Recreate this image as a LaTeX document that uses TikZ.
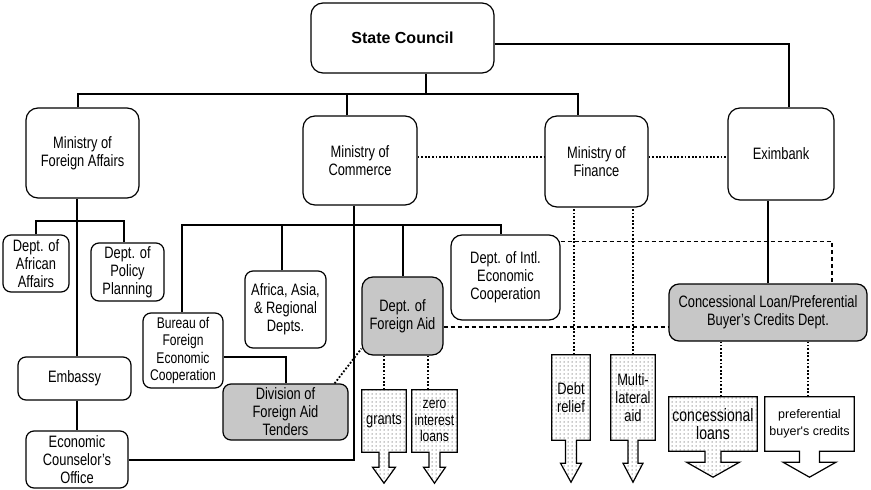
\documentclass[tikz,border=0pt]{standalone}
\usepackage{fontspec}
\setmainfont{Liberation Sans}[FakeStretch=0.78]
\newfontfamily\plainsans{Liberation Sans}
\usetikzlibrary{calc,backgrounds,patterns.meta}

\tikzdeclarepattern{
  name=aiddots,
  type=uncolored,
  bounding box={(-1pt,-1pt) and (1pt,1pt)},
  tile size={(4pt,4pt)},
  code={\pgfpathcircle{\pgfpointorigin}{0.75pt}\pgfusepath{fill}}
}

\newcommand{\boxfont}{\fontsize{16.5}{18}\selectfont}
\newcommand{\smallboxfont}{\fontsize{15.5}{17.5}\selectfont}

\tikzset{
  unit/.style={draw,line width=1.2pt,rounded corners=8pt,fill=white,align=center,inner sep=0pt,font=\boxfont},
  ministry/.style={unit,rounded corners=12pt},
  aiddept/.style={unit,fill=black!22},
  flowbox/.style={align=center,inner sep=0pt,font=\boxfont},
  arrowbody/.style={draw,line width=1.2pt,pattern=aiddots,pattern color=black!42,line join=miter},
  plainbody/.style={draw,line width=1.2pt,fill=white,line join=miter},
  tree/.style={line width=2pt},
  dotline/.style={line width=1.8pt,dash pattern=on 1.8pt off 1.8pt},
  dashline/.style={line width=1.8pt,dash pattern=on 4pt off 3pt}
}

% block arrow under a flow node: [style] node, stem half, head half, stem length, head length
\newcommand{\aidarrow}[6][arrowbody]{%
  \begin{scope}[on background layer]
    \draw[#1] (#2.north west) -- (#2.north east) -- (#2.south east)
      -- ($(#2.south)+(#3,0)$) -- ($(#2.south)+(#3,#5)$) -- ($(#2.south)+(#4,#5)$)
      -- ($(#2.south)+(0,{#5+#6})$) -- ($(#2.south)+(-#4,#5)$)
      -- ($(#2.south)+(-#3,#5)$) -- ($(#2.south)+(-#3,0)$)
      -- (#2.south west) -- cycle;
  \end{scope}}

\begin{document}
\begin{tikzpicture}[x=1pt,y=-1pt]
	\useasboundingbox (0,0) rectangle (871,490);
	%%
	\node (council) at (402.5,38) [unit,rounded corners=12pt,minimum width=183pt,minimum height=70pt,font={\plainsans\bfseries\fontsize{16}{19}\selectfont}] {State Council};
	  \node (mfa) at (82.5,153) [ministry,minimum width=113pt,minimum height=90pt] {Ministry of\\Foreign Affairs};
	  \node (moc) at (360,160.5) [ministry,minimum width=114pt,minimum height=89pt] {Ministry of\\Commerce};
	  \node (mof) at (596.5,161.5) [ministry,minimum width=103pt,minimum height=91pt] {Ministry of\\Finance};
	  \node (exim) at (781,154) [ministry,minimum width=106pt,minimum height=92pt] {Eximbank};
	  \node (african) at (36,263.5) [unit,minimum width=66pt,minimum height=57pt] {Dept. of\\African\\Affairs};
	  \node (policy) at (127.5,272) [unit,minimum width=73pt,minimum height=58pt] {Dept. of\\Policy\\Planning};
	  \node (embassy) at (74.5,378.5) [unit,minimum width=113pt,minimum height=43pt] {Embassy};
	  \node (counselor) at (77,459.5) [unit,minimum width=102pt,minimum height=57pt] {Economic\\Counselor's\\Office};
	  \node (bureau) at (183,350.5) [unit,minimum width=80pt,minimum height=75pt,font=\smallboxfont] {Bureau of\\Foreign\\Economic\\Cooperation};
	  \node (regional) at (285.5,309.5) [unit,minimum width=81pt,minimum height=77pt] {Africa, Asia,\\\& Regional\\Depts.};
	  \node (division) at (285.5,412) [aiddept,minimum width=125pt,minimum height=56pt] {Division of\\Foreign Aid\\Tenders};
	  \node (dfa) at (402.5,316) [aiddept,rounded corners=11pt,minimum width=81pt,minimum height=78pt] {Dept. of\\Foreign Aid};
	  \node (intl) at (505.5,277.5) [unit,rounded corners=11pt,minimum width=109pt,minimum height=85pt] {Dept. of Intl.\\Economic\\Cooperation};
	  \node (concess) at (768,312.5) [aiddept,rounded corners=10pt,minimum width=198pt,minimum height=57pt] {Concessional Loan/Preferential\\Buyer's Credits Dept.};
	  \node (grants) at (384,421) [flowbox,minimum width=44pt,minimum height=62pt] {grants};
	  \node (zero) at (434.5,421) [flowbox,minimum width=45pt,minimum height=62pt,font={\fontsize{15.5}{16.5}\selectfont}] {zero\\interest\\loans};
	  \node (debt) at (571,397.5) [flowbox,minimum width=38pt,minimum height=85pt] {Debt\\relief};
	  \node (multi) at (633,397.5) [flowbox,minimum width=44pt,minimum height=85pt] {Multi-\\lateral\\aid};
	  \node (loans) at (713,424) [flowbox,minimum width=88pt,minimum height=54pt,font={\fontsize{18}{18.5}\selectfont}] {concessional\\loans};
	  \node (pref) at (809.5,424) [flowbox,minimum width=89pt,minimum height=54pt,font={\plainsans\fontsize{12.5}{16.5}\selectfont}] {preferential\\buyer's credits};
	  \aidarrow{grants}{5}{11.5}{15}{16}
	  \aidarrow{zero}{5.5}{11}{15}{16}
	  \aidarrow{debt}{5.5}{10.5}{23}{19}
	  \aidarrow{multi}{5}{10}{23}{19}
	  \aidarrow{loans}{8}{26.5}{11}{15}
	  \aidarrow[plainbody]{pref}{10}{26.5}{11}{15}
	%
	\coordinate (topbus) at (425.5,94);
	  \draw[tree] (council.south -| topbus) -- (topbus);
	  \draw[tree] ([xshift=-5pt]mfa.north) |- ([xshift=-18.5pt]mof.north |- topbus) -- ([xshift=-18.5pt]mof.north);
	  \draw[tree] ([xshift=-13pt]moc.north) -- ([xshift=-13pt]moc.north |- topbus);
	  \draw[tree] ([yshift=-6pt]council.east) -| ([xshift=8pt]exim.north);
	  \draw[dotline] ([yshift=3.5pt]moc.east) -- ([yshift=3.5pt]moc.east -| mof.west);
	  \draw[dotline] ([yshift=4.5pt]mof.east) -- ([yshift=4.5pt]mof.east -| exim.west);
	%
	\coordinate (mfabus) at (77,221);
	  \draw[tree] (mfabus |- mfa.south) -- (mfabus |- embassy.north);
	  \draw[tree] (african.north) |- (mfabus) -| ([xshift=-3.5pt]policy.north);
	  \draw[tree] (counselor.north |- embassy.south) -- (counselor.north);
	%
	\coordinate (mocbus) at (354,225);
	  \draw[tree] (mocbus |- moc.south) -- (mocbus);
	  \draw[tree] ([xshift=-1pt]bureau.north) |- (mocbus) -| ([xshift=-4.5pt]intl.north);
	  \draw[tree] ([xshift=-3.5pt]regional.north) -- ([xshift=-3.5pt]regional.north |- mocbus);
	  \draw[tree] (dfa.north) -- (dfa.north |- mocbus);
	  \draw[tree] (mocbus) |- (counselor.east);
	  \draw[tree] ([yshift=-6.5pt]bureau.east) -| (division.north);
	  \draw[dotline] ([xshift=-14pt]division.north east) -- ([yshift=7pt]dfa.south west);
	  \draw[dotline] (grants.north) -- (grants.north |- dfa.south);
	  \draw[dotline] ([xshift=-6.5pt]zero.north) -- ([xshift=-6.5pt]zero.north |- dfa.south);
	%
	\draw[dotline] ([xshift=3pt]debt.north) -- ([xshift=3pt]debt.north |- mof.south);
	  \draw[dotline] (multi.north) -- (multi.north |- mof.south);
	%
	\draw[tree] (concess.north) -- (concess.north |- exim.south);
	  \draw[dotline] ([xshift=8pt]loans.north) -- ([xshift=8pt]loans.north |- concess.south);
	  \draw[dotline] ([xshift=-1.5pt]pref.north) -- ([xshift=-1.5pt]pref.north |- concess.south);
	  \draw[dashline] ([yshift=-11pt]dfa.east) -- ([yshift=-11pt]dfa.east -| concess.west);
	  \draw[dashline] ([yshift=-7pt]intl.north east) -| ([xshift=64pt]concess.north);
	%
\end{tikzpicture}
\end{document}
